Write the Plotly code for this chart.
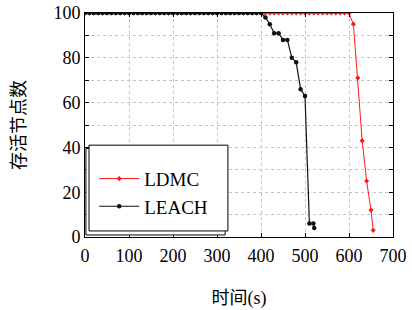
import plotly.graph_objects as go

# Data
ldmc_t = list(range(0, 610, 10)) + [610, 620, 630, 640, 650, 655]
ldmc_v = [100] * 61 + [95, 71, 43, 25, 12, 3]

leach_t = list(range(0, 410, 10)) + [410, 420, 430, 440, 450, 460, 470, 480, 490, 500, 510, 519, 521]
leach_v = [100] * 41 + [98, 95, 91, 91, 88, 88, 80, 78, 66, 63, 6, 6, 4]

x_ticks = [0, 100, 200, 300, 400, 500, 600, 700]
y_ticks = list(range(0, 101, 10))
y_labels = [str(v) if v % 20 == 0 else "" for v in y_ticks]

serif = "Liberation Serif, Times New Roman, serif"
title_font = "Liberation Serif, Noto Sans CJK SC, serif"

fig = go.Figure()
fig.add_trace(go.Scatter(
    x=ldmc_t, y=ldmc_v, name="LDMC", mode="lines+markers",
    line=dict(color="#ff1a1a", width=1),
    marker=dict(symbol="diamond", size=4, color="#ff1a1a"),
))
fig.add_trace(go.Scatter(
    x=leach_t, y=leach_v, name="LEACH", mode="lines+markers",
    line=dict(color="#111111", width=1.2),
    marker=dict(symbol="circle", size=4.5, color="#111111"),
))

# legend frame with shadow
fig.add_shape(type="rect", xref="paper", yref="paper", x0=0.003, x1=0.455, y0=0.009, y1=0.395,
              line=dict(color="black", width=1), fillcolor="white", layer="above")
fig.add_shape(type="rect", xref="paper", yref="paper", x0=0.013, x1=0.464, y0=0.027, y1=0.41,
              line=dict(color="black", width=1), fillcolor="white", layer="above")

axis_common = dict(
    showline=True, linecolor="black", linewidth=1, mirror="ticks",
    ticks="inside", ticklen=4, tickcolor="black",
    showgrid=True, gridcolor="#c4c4c4", griddash="dot", gridwidth=1,
    zeroline=False, tickfont=dict(family=serif, size=18, color="black"),
    automargin=False,
)

fig.update_layout(
    width=412, height=310,
    margin=dict(l=85, r=19, t=13, b=73),
    paper_bgcolor="white", plot_bgcolor="white",
    showlegend=True,
    legend=dict(x=0.03, y=0.345, xanchor="left", yanchor="top",
                bgcolor="rgba(0,0,0,0)", borderwidth=0,
                font=dict(family=serif, size=19, color="black"),
                itemwidth=40, tracegroupgap=0),
    xaxis=dict(range=[0, 700], tickvals=x_ticks, ticklabelstandoff=2,
               title=dict(text="时间(s)", font=dict(family=title_font, size=18, color="black"), standoff=26),
               **axis_common),
    yaxis=dict(range=[0, 100], tickvals=y_ticks, ticktext=y_labels,
               title=dict(text="存活节点数", font=dict(family=title_font, size=18, color="black"), standoff=23),
               **axis_common),
)

fig.write_html("out.html", post_script="document.body.style.margin='0';",
               config={"displayModeBar": False})
